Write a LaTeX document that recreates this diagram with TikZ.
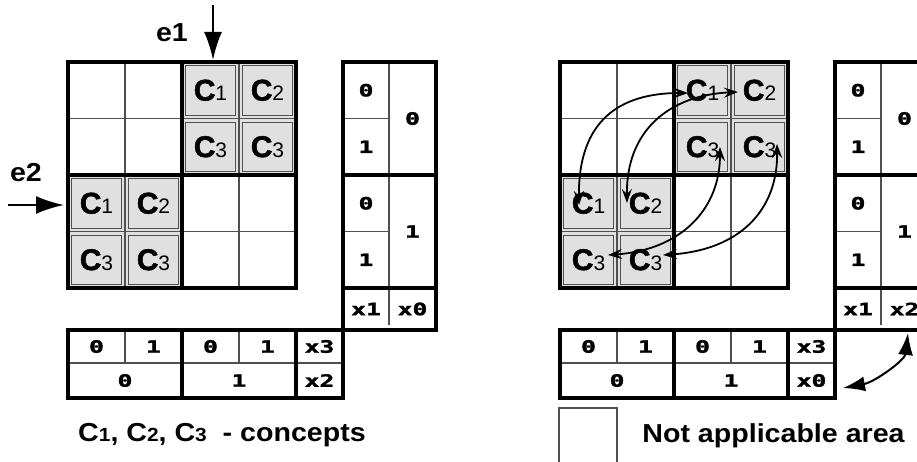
\documentclass[tikz,border=0pt]{standalone}
\usepackage{fontspec}
\usepackage{graphicx}
\setmainfont{Liberation Sans}
\newfontfamily\heavyf{Liberation Sans}[BoldFeatures={FakeBold=1.6}]
\newfontfamily\monobf{DejaVu Sans Mono}[BoldFeatures={FakeBold=1.5}]
\usetikzlibrary{arrows.meta}
\definecolor{cellgray}{HTML}{E0E0E0}
\definecolor{linegray}{HTML}{505050}
\newcommand\cC[1]{{\heavyf\bfseries\fontsize{30}{30}\selectfont C}{\fontsize{21}{21}\selectfont #1}}
\newcommand\capC[1]{{\bfseries C}{\fontsize{19}{19}\selectfont #1}}
\newcommand\dg[1]{\scalebox{1.45}[1]{\monobf\bfseries\fontsize{17}{17}\selectfont #1}}
\newcommand\wide[1]{\scalebox{1.1}[1]{#1}}
\tikzset{
  thickln/.style={line width=4pt, line join=miter},
  thinln/.style={line width=1.3pt, draw=linegray},
  clabel/.style={inner sep=0pt, anchor=center},
  dlabel/.style={inner sep=0pt, anchor=center},
  dblarr/.style={{Stealth[length=14pt,width=10pt,inset=5pt]}-{Stealth[length=14pt,width=10pt,inset=5pt]}, line width=1.8pt},
  bigarr/.style={-{Latex[length=28pt,width=18pt]}, line width=2.3pt},
  swaparr/.style={{Latex[length=22pt,width=15pt]}-{Latex[length=22pt,width=15pt]}, line width=2pt},
  caption/.style={inner sep=0pt, font=\bfseries\fontsize{26}{26}\selectfont}
}
\newcommand\drawpanel[3]{%
  \foreach \c/\r in {3/1,4/1,3/2,4/2,1/3,2/3,1/4,2/4}{
    \fill[cellgray] ({68+57*(\c-1)},{62+56.5*(\r-1)}) rectangle ++(57,56.5);
    \draw[linegray, line width=0.9pt] ({68+57*(\c-1)+3.5},{62+56.5*(\r-1)+3.5}) rectangle ++(50,49.5);
  }
  \foreach \x in {125,239} \draw[thinln] (\x,62) -- (\x,288);
  \foreach \y in {118.5,231.5} \draw[thinln] (68,\y) -- (296,\y);
  \draw[thickln] (68,62) rectangle (296,288);
  \draw[thickln] (182,62) -- (182,288);
  \draw[thickln] (68,175) -- (296,175);
  % right table
  \draw[thinln] (343,118.5) -- (389,118.5);
  \draw[thinln] (343,231.5) -- (389,231.5);
  \draw[thinln] (389,62) -- (389,288);
  \draw[thinln] (389,290) -- (389,325);
  \draw[thickln] (343,62) rectangle (436,330);
  \draw[thickln] (343,175) -- (436,175);
  \draw[thickln] (343,288) -- (436,288);
  % bottom table
  \draw[thinln] (68,363) -- (343,363);
  \foreach \x in {125,239} \draw[thinln] (\x,330) -- (\x,363);
  \draw[thickln] (68,330) rectangle (343,398);
  \draw[thickln] (182,330) -- (182,398);
  \draw[thickln] (296,330) -- (296,398);
  % concept labels
  \node[clabel] (#1c13) at (210.5,90.25) {\cC{1}};
  \node[clabel] (#1c14) at (267.5,90.25) {\cC{2}};
  \node[clabel] (#1c23) at (210.5,146.75) {\cC{3}};
  \node[clabel] (#1c24) at (267.5,146.75) {\cC{3}};
  \node[clabel] (#1c31) at (96.5,203.25) {\cC{1}};
  \node[clabel] (#1c32) at (153.5,203.25) {\cC{2}};
  \node[clabel] (#1c41) at (96.5,259.75) {\cC{3}};
  \node[clabel] (#1c42) at (153.5,259.75) {\cC{3}};
  % right table labels
  \node[dlabel] (#1ra) at (366,90.25) {\dg{0}};
  \node[dlabel] (#1rb) at (366,146.75) {\dg{1}};
  \node[dlabel] (#1rc) at (366,203.25) {\dg{0}};
  \node[dlabel] (#1rd) at (366,259.75) {\dg{1}};
  \node[dlabel] (#1re) at (412.5,118.5) {\dg{0}};
  \node[dlabel] (#1rf) at (412.5,231.5) {\dg{1}};
  \node[dlabel] (#1rg) at (366,309) {\dg{x1}};
  \node[dlabel] (#1rh) at (412.5,309) {\dg{#2}};
  % bottom table labels
  \node[dlabel] (#1ba) at (96.5,346.5) {\dg{0}};
  \node[dlabel] (#1bb) at (153.5,346.5) {\dg{1}};
  \node[dlabel] (#1bc) at (210.5,346.5) {\dg{0}};
  \node[dlabel] (#1bd) at (267.5,346.5) {\dg{1}};
  \node[dlabel] (#1be) at (319.5,346.5) {\dg{x3}};
  \node[dlabel] (#1bf) at (125,380.5) {\dg{0}};
  \node[dlabel] (#1bg) at (239,380.5) {\dg{1}};
  \node[dlabel] (#1bh) at (319.5,380.5) {\dg{#3}};
}
\begin{document}
\begin{tikzpicture}[x=1pt,y=-1pt]
\clip (0,0) rectangle (917,462);
\fill[white] (0,0) rectangle (917,462);
% left panel
\drawpanel{L}{x0}{x2}
\node[caption] (e1) at (172,33) {\wide{e1}};
\node[caption] (e2) at (26,173) {\wide{e2}};
\coordinate (e1s) at (213,5);
\coordinate (e1t) at (213,60);
\coordinate (e2s) at (8,205);
\coordinate (e2t) at (64,205);
\draw[bigarr] (e1s) -- (e1t);
\draw[bigarr] (e2s) -- (e2t);
\node[caption, anchor=center] (cap) at (222,435) {\wide{\capC{1}, \capC{2}, \capC{3}\ \ - concepts}};
% right panel
\begin{scope}[xshift=492pt]
\drawpanel{R}{x2}{x0}
\end{scope}
\coordinate (a1s) at (579,205);
\coordinate (a1e) at (688,93);
\coordinate (a2s) at (627,203);
\coordinate (a2e) at (738,92);
\coordinate (a3s) at (608,255);
\coordinate (a3e) at (720,147);
\coordinate (a4s) at (663,255);
\coordinate (a4e) at (777,144);
\draw[dblarr] (a1s) .. controls (578,120) and (620,93) .. (a1e);
\draw[dblarr] (a2s) .. controls (626,130) and (670,95) .. (a2e);
\draw[dblarr] (a3s) .. controls (680,250) and (720,210) .. (a3e);
\draw[dblarr] (a4s) .. controls (740,250) and (778,210) .. (a4e);
\coordinate (bs) at (843,388);
\coordinate (be) at (908,333);
\draw[swaparr] (bs) .. controls (875,382) and (905,360) .. (be);
\node[draw=linegray, line width=1.3pt, minimum width=58pt, minimum height=56pt, inner sep=0pt] (legbox) at (588,436) {};
\node[caption] (legtext) at (773.5,436) {\wide{Not applicable area}};
\end{tikzpicture}
\end{document}
